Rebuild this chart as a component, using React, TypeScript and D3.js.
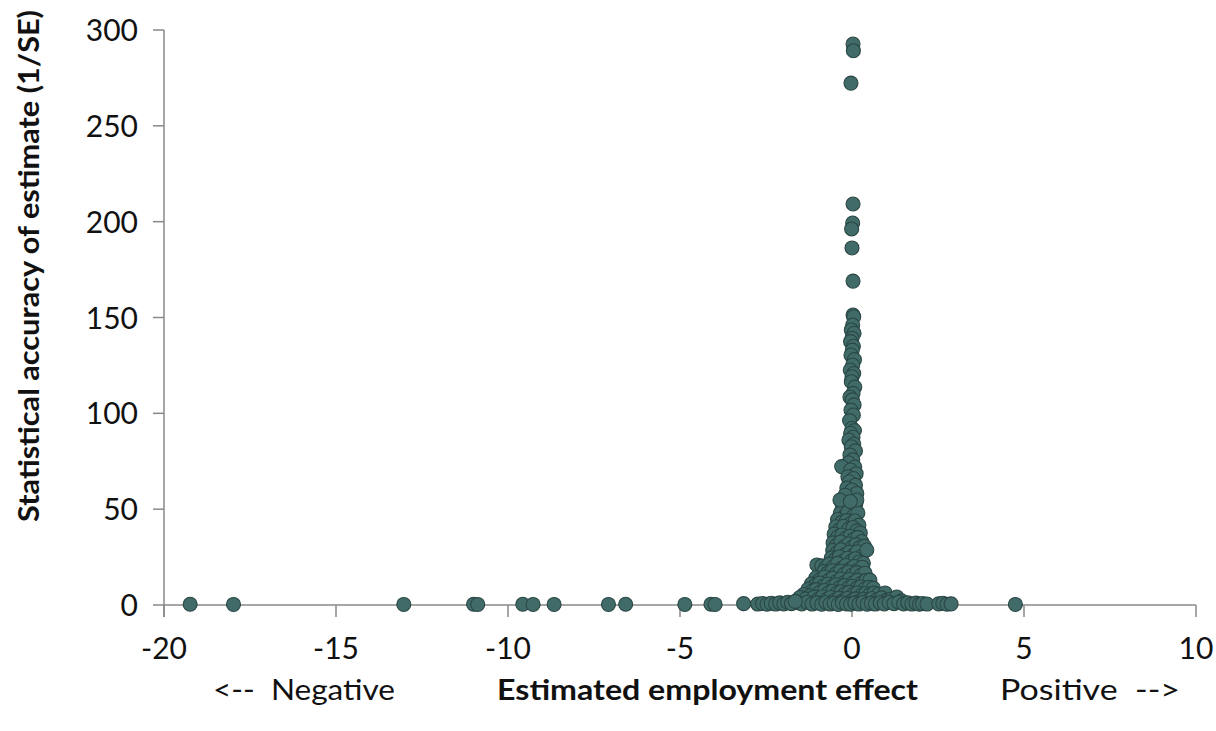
import React from "react";
import * as d3 from "d3";

// axis ticks
const xTicks = [-20, -15, -10, -5, 0, 5, 10];
const yTicks = [0, 50, 100, 150, 200, 250, 300];

// [estimated effect, 1/SE]
// extreme estimates sitting on the axis
const tailPoints: [number, number][] = [
  [-19.24, 0.4], [-17.98, 0.3], [-13.03, 0.3], [-11.0, 0.4], [-10.88, 0.3],
  [-9.57, 0.4], [-9.27, 0.3], [-8.66, 0.3], [-7.08, 0.3], [-6.58, 0.4],
  [-4.86, 0.3], [-4.1, 0.4], [-3.98, 0.3], [-3.15, 0.7],
  [-2.74, 0.5], [-2.6, 0.8], [-2.47, 0.4], [-2.35, 0.9], [-2.22, 0.5],
  [-2.1, 1.1], [-1.98, 0.6], [-1.87, 1.4], [-1.76, 0.7], [-1.65, 1.9],
  [2.05, 0.8], [2.18, 0.5], [2.52, 0.6], [2.64, 0.9], [2.76, 0.4],
  [2.88, 0.6], [4.75, 0.3],
];

// the most precise estimates, forming the spike
const spikePoints: [number, number][] = [
  [0.03, 292.7], [0.04, 289.2], [-0.03, 272.3], [0.03, 209.2], [0.02, 199.3],
  [-0.01, 196.2], [0.0, 186.3], [0.03, 169], [0.03, 151.3],
  [0.05, 150.4], [0.02, 146.1], [-0.02, 143.5], [0.06, 141.8], [0.0, 139.2],
  [-0.04, 137.4], [0.04, 135.0], [0.01, 133.0], [-0.03, 130.4], [0.07, 128.0],
  [0.02, 125.2], [-0.05, 122.6], [0.05, 120.8], [0.0, 119.1], [-0.02, 116.5],
  [0.08, 113.7], [0.03, 110.4], [-0.06, 108.5], [0.01, 107.0], [0.06, 104.4],
  [-0.03, 101.7], [0.04, 99.1], [-0.07, 96.2], [0.0, 92.2], [0.07, 91.0],
  [-0.04, 89.6], [0.03, 87.5], [-0.09, 86.1], [0.05, 84.0], [-0.02, 82.6],
  [0.1, 80.4], [-0.06, 78.3], [0.02, 75.7], [-0.1, 74.2], [-0.3, 72.2],
  [0.08, 72.0], [-0.04, 70.4], [0.12, 68.5], [-0.12, 66.9], [0.04, 66.0],
  [-0.08, 64.3], [0.1, 62.5], [-0.15, 61.0], [0.0, 60.0], [0.14, 58.2],
  [-0.2, 57.3], [-0.35, 54.8], [0.14, 54.8], [-0.05, 54.0],
];

// bulk of estimates near zero
const clusterPoints: [number, number][] = [
  [-0.28, 52.1], [-0.18, 50.4], [-0.08, 51.6], [0.02, 49.8], [0.11, 52.7],
  [-0.34, 47.9], [-0.22, 46.3], [-0.12, 48.5], [0.06, 46.9], [0.17, 48.0],
  [-0.42, 44.6], [-0.3, 43.1], [-0.16, 44.0], [-0.04, 42.5], [0.09, 43.8],
  [0.2, 41.7], [-0.47, 40.8], [-0.36, 39.2], [-0.24, 41.1], [-0.1, 39.6],
  [0.03, 40.4], [0.14, 38.7], [0.24, 37.6],
  [-0.52, 37.0], [-0.41, 35.6], [-0.29, 36.5], [-0.18, 34.8], [-0.06, 35.9],
  [0.05, 34.2], [0.17, 35.3], [0.28, 33.1], [-0.55, 32.4], [-0.45, 31.0],
  [-0.33, 32.9], [-0.21, 30.5], [-0.1, 31.8], [0.01, 30.2], [0.12, 31.5],
  [0.22, 29.8], [0.36, 30.7],
  [-0.56, 28.4], [-0.44, 27.1], [-0.32, 28.8], [-0.2, 26.2], [-0.08, 27.5],
  [0.04, 25.9], [0.15, 27.8], [0.27, 25.3], [0.43, 28.7], [-0.6, 24.6],
  [-0.48, 23.8], [-0.37, 25.2], [-0.25, 23.1], [-0.13, 24.4], [-0.01, 22.9],
  [0.1, 24.1], [0.21, 22.4], [0.33, 21.8],
  [-1.02, 20.9], [-0.88, 20.4], [-0.76, 19.6], [-0.66, 21.3], [-0.54, 20.0],
  [-0.42, 21.7], [-0.3, 19.2], [-0.18, 20.6], [-0.06, 18.8], [0.06, 20.1],
  [0.18, 18.3], [0.3, 19.7], [-0.82, 17.5], [-0.7, 16.8], [-0.58, 17.9],
  [-0.46, 16.4], [-0.34, 17.6], [-0.22, 16.1], [-0.1, 17.2], [0.02, 15.8],
  [0.14, 16.9], [0.26, 15.5], [0.38, 16.6],
  [-1.05, 14.2], [-0.93, 13.1], [-0.8, 14.6], [-0.68, 12.8], [-0.56, 14.0],
  [-0.44, 12.3], [-0.32, 13.6], [-0.2, 11.9], [-0.08, 13.3], [0.04, 11.6],
  [0.16, 13.0], [0.28, 11.4], [0.4, 12.7], [0.52, 13.0], [-1.18, 11.0],
  [-1.06, 10.3], [-0.94, 11.5], [-0.82, 9.9], [-0.7, 10.8], [-0.58, 9.6],
  [-0.46, 10.6], [-0.34, 9.2], [-0.22, 10.1], [-0.1, 8.9], [0.02, 9.8],
  [0.14, 8.7], [0.26, 9.5], [0.38, 8.4], [0.5, 9.3], [0.62, 8.8],
  [-1.28, 8.2], [-1.16, 7.3], [-1.04, 8.0], [-0.92, 6.8], [-0.8, 7.6],
  [-0.68, 6.4], [-0.56, 7.2], [-0.44, 6.1], [-0.32, 6.9], [-0.2, 5.8],
  [-0.08, 6.6], [0.04, 5.5], [0.16, 6.3], [0.28, 5.2], [0.4, 6.0],
  [0.52, 5.4], [0.64, 6.2], [0.76, 5.6], [0.96, 6.3], [-1.4, 5.5], [-1.22, 4.8],
  [-1.52, 3.9], [-1.34, 3.2], [-1.1, 4.1], [-0.98, 3.0], [-0.86, 4.3],
  [-0.74, 2.8], [-0.62, 3.9], [-0.5, 2.5], [-0.38, 3.6], [-0.26, 2.3],
  [-0.14, 3.4], [-0.02, 2.1], [0.1, 3.2], [0.22, 2.0], [0.34, 3.0],
  [0.46, 2.2], [0.58, 3.4], [0.72, 2.6], [0.86, 3.7], [1.0, 2.4],
  [1.14, 3.1], [1.3, 4.2], [1.44, 2.2],
  [-1.58, 1.2], [-1.46, 0.6], [-1.3, 1.4], [-1.16, 0.5], [-1.02, 1.1],
  [-0.88, 0.4], [-0.76, 1.3], [-0.64, 0.5], [-0.52, 1.0], [-0.4, 0.3],
  [-0.28, 1.2], [-0.16, 0.6], [-0.04, 0.4], [0.08, 1.1], [0.2, 0.5],
  [0.32, 1.3], [0.44, 0.4], [0.56, 0.9], [0.68, 0.5], [0.82, 1.2],
  [0.94, 0.6], [1.08, 1.4], [1.22, 0.7], [1.36, 1.5], [1.5, 0.6],
  [1.62, 1.2], [1.74, 0.5], [1.86, 1.0], [1.96, 0.4],
];

const W = 1216;
const H = 731;
const font = "Lato, 'Open Sans', sans-serif";
const axisColor = "#888888";

export default function App() {
  const x = d3.scaleLinear().domain([-20, 10]).range([164, 1196]);
  const y = d3.scaleLinear().domain([0, 300]).range([605, 30]);
  const points = [...clusterPoints, ...tailPoints, ...spikePoints];

  return (
    <svg
      width={W}
      height={H}
      style={{ position: "absolute", left: 0, top: 0, background: "#fff" }}
    >
      {/* y axis */}
      <line x1={x(-20)} x2={x(-20)} y1={y(300)} y2={y(0) + 12} stroke={axisColor} strokeWidth={1.5} />
      {yTicks.map((t) => (
        <g key={"y" + t}>
          <line x1={x(-20) - 11} x2={x(-20)} y1={y(t)} y2={y(t)} stroke={axisColor} strokeWidth={1.5} />
          <text x={138} y={y(t) + 11} textAnchor="end" fontFamily={font} fontSize={30} fill="#111">
            {t}
          </text>
        </g>
      ))}
      {/* x axis */}
      <line x1={x(-20)} x2={x(10)} y1={y(0)} y2={y(0)} stroke={axisColor} strokeWidth={1.5} />
      {xTicks.map((t) => (
        <g key={"x" + t}>
          <line x1={x(t)} x2={x(t)} y1={y(0)} y2={y(0) + 12} stroke={axisColor} strokeWidth={1.5} />
          <text x={x(t)} y={659} textAnchor="middle" fontFamily={font} fontSize={30} fill="#111">
            {t}
          </text>
        </g>
      ))}

      {points.map((p, i) => (
        <circle
          key={i}
          cx={x(p[0])}
          cy={y(p[1])}
          r={7}
          fill="#406b68"
          stroke="#2a4744"
          strokeWidth={1.1}
        />
      ))}

      {/* titles */}
      <text
        transform="translate(39,266) rotate(-90)"
        textAnchor="middle"
        fontFamily={font}
        fontWeight="bold"
        fontSize={28}
        textLength={512}
        lengthAdjust="spacingAndGlyphs"
        fill="#111"
      >
        Statistical accuracy of estimate (1/SE)
      </text>
      <text x={213} y={700} fontFamily={font} fontSize={28} textLength={182} lengthAdjust="spacingAndGlyphs" fill="#111" style={{ whiteSpace: "pre" }}>
        {"<--  Negative"}
      </text>
      <text x={497} y={700} fontFamily={font} fontWeight="bold" fontSize={28} textLength={421} lengthAdjust="spacingAndGlyphs" fill="#111">
        Estimated employment effect
      </text>
      <text x={1000} y={700} fontFamily={font} fontSize={28} textLength={180} lengthAdjust="spacingAndGlyphs" fill="#111" style={{ whiteSpace: "pre" }}>
        {"Positive  -->"}
      </text>
    </svg>
  );
}
